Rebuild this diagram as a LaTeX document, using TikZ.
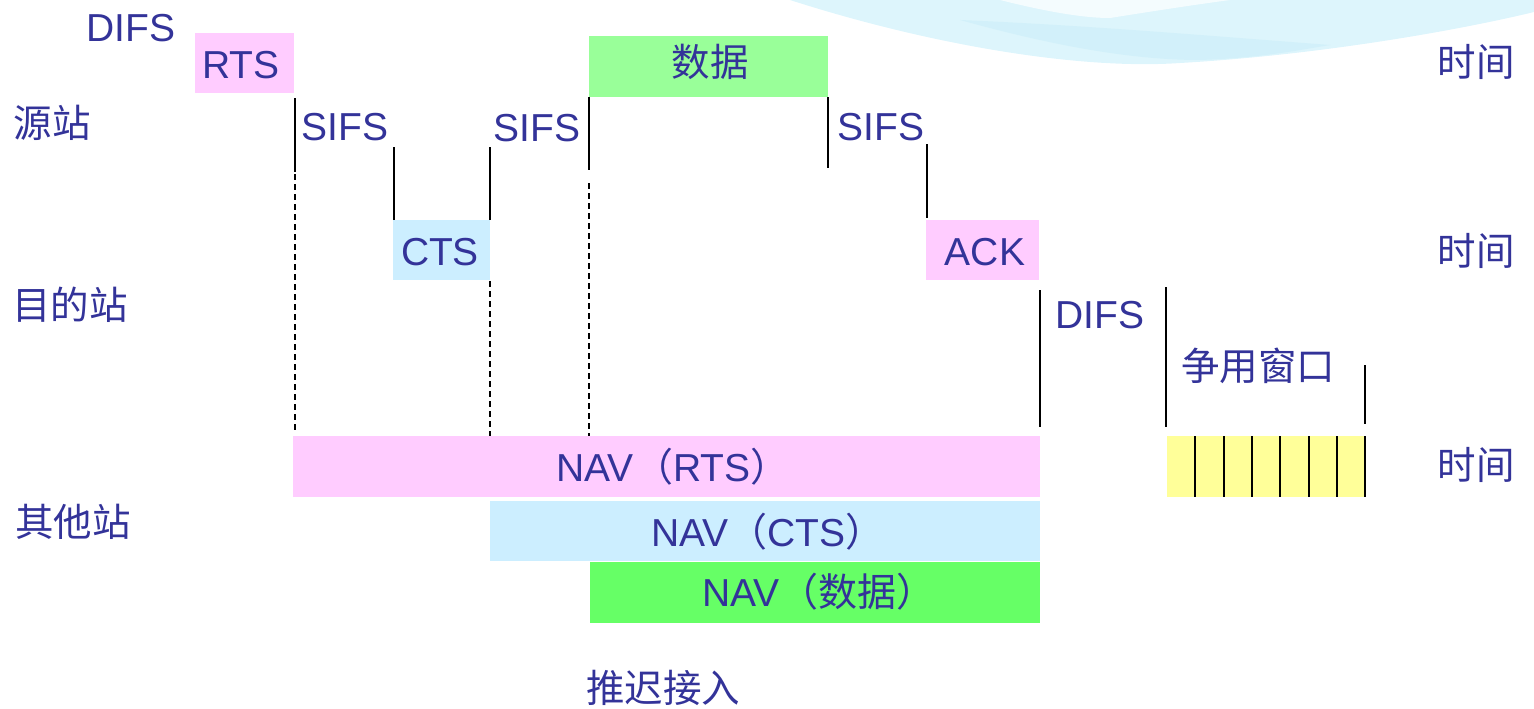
\documentclass[tikz,border=0pt]{standalone}
\usepackage{fontspec}
\setmainfont{Liberation Sans}
\newfontfamily\cjk{Noto Sans CJK SC}
\definecolor{txt}{HTML}{333399}
\definecolor{pinkbox}{HTML}{FFCCFF}
\definecolor{bluebox}{HTML}{CCEEFF}
\definecolor{greenbox}{HTML}{99FF99}
\definecolor{greenbox2}{HTML}{66FF66}
\definecolor{yellowbox}{HTML}{FFFF99}
\definecolor{swoosh}{HTML}{DDF5FC}
\definecolor{swoosh2}{HTML}{CBEEF9}
\begin{document}
\begin{tikzpicture}[x=1pt,y=-1pt,
  lbl/.style={text=txt,font=\fontsize{39}{42}\selectfont,inner sep=0pt},
  cjklbl/.style={text=txt,font=\fontsize{38.5}{42}\selectfont\cjk,inner sep=0pt},
  box/.style={draw=none,inner sep=0pt,text=txt,font=\fontsize{39}{42}\selectfont},
  tick/.style={draw=black,line width=1.8pt},
  dashtick/.style={draw=black,line width=1.4pt,dash pattern=on 6pt off 4pt},
  slot/.style={draw=black,line width=2pt}]
\useasboundingbox (0,0) rectangle (1534,709);
% decorative swoosh
\fill[swoosh] (790,0) .. controls (930,45) and (1080,70) .. (1180,63)
  .. controls (1320,55) and (1460,30) .. (1534,12) -- (1534,0) -- cycle;
\fill[swoosh2,opacity=0.6] (960,20) .. controls (1050,45) and (1130,60) .. (1200,60)
  .. controls (1260,58) and (1300,50) .. (1330,45) .. controls (1200,35) and (1080,25) .. (960,20) -- cycle;
\fill[white,opacity=0.7] (1000,0) .. controls (1040,10) and (1080,18) .. (1110,18)
  .. controls (1160,10) and (1200,4) .. (1230,0) -- cycle;

% station labels
\node[cjklbl] (src) at (52,123) {源站};
\node[cjklbl] (dst) at (70,305) {目的站};
\node[cjklbl] (oth) at (73,522) {其他站};
\node[cjklbl] (t1) at (1476,62) {时间};
\node[cjklbl] (t2) at (1476,251) {时间};
\node[cjklbl] (t3) at (1476,465) {时间};

% source frames
\node[lbl] (difs1) at (131,28) {DIFS};
\node[box,fill=pinkbox,minimum width=99pt,minimum height=60pt] (rts) at (244.5,63) {};
\node[lbl] (rtstxt) at (241,65) {RTS};
\node[box,fill=greenbox,minimum width=239pt,minimum height=61pt] (data) at (708.5,66.5) {};
\node[cjklbl] (datatxt) at (710,62) {数据};

% destination frames
\node[box,fill=bluebox,minimum width=97pt,minimum height=60pt] (cts) at (441.5,250) {};
\node[lbl] (ctstxt) at (440,252) {CTS};
\node[box,fill=pinkbox,minimum width=113pt,minimum height=60pt] (ack) at (982.5,250) {};
\node[lbl] (acktxt) at (985,252) {ACK};

% SIFS labels
\node[lbl] (sifs1) at (345,127) {SIFS};
\node[lbl] (sifs2) at (537,128) {SIFS};
\node[lbl] (sifs3) at (881,127) {SIFS};

% ticks
\draw[tick] (295,98) -- (295,172);
\draw[dashtick] (295,174) -- (295,432);
\draw[tick] (394,147) -- (394,220);
\draw[tick] (490,147) -- (490,220);
\draw[dashtick] (490,281) -- (490,438);
\draw[tick] (589,97) -- (589,170);
\draw[dashtick] (589,183) -- (589,440);
\draw[tick] (828,97) -- (828,168);
\draw[tick] (927,144) -- (927,218);

% DIFS / contention window
\draw[tick] (1040,290) -- (1040,427);
\node[lbl] (difs2) at (1100,315) {DIFS};
\draw[tick] (1166,287) -- (1166,427);
\node[cjklbl] (cw) at (1258,366) {争用窗口};
\draw[tick] (1365,365) -- (1365,424);

% NAV bars
\node[box,fill=pinkbox,minimum width=747pt,minimum height=61pt] (navrts) at (666.5,466.5) {};
\node[lbl] at (673,467) {NAV{\cjk （}RTS{\cjk ）}};
\node[box,fill=bluebox,minimum width=550pt,minimum height=60pt] (navcts) at (765,531) {};
\node[lbl] at (768,532) {NAV{\cjk （}CTS{\cjk ）}};
\node[box,fill=greenbox2,minimum width=450pt,minimum height=61pt] (navdata) at (815,592.5) {};
\node[lbl] at (819,592) {NAV{\cjk （数据）}};

% contention slots
\node[box,fill=yellowbox,minimum width=198pt,minimum height=61pt] (slots) at (1266,466.5) {};
\foreach \i in {1,...,7} {
  \draw[slot] ({1167+28.3*\i},436) -- ({1167+28.3*\i},497);
}

\node[cjklbl] (defer) at (663,688) {推迟接入};
\end{tikzpicture}
\end{document}
